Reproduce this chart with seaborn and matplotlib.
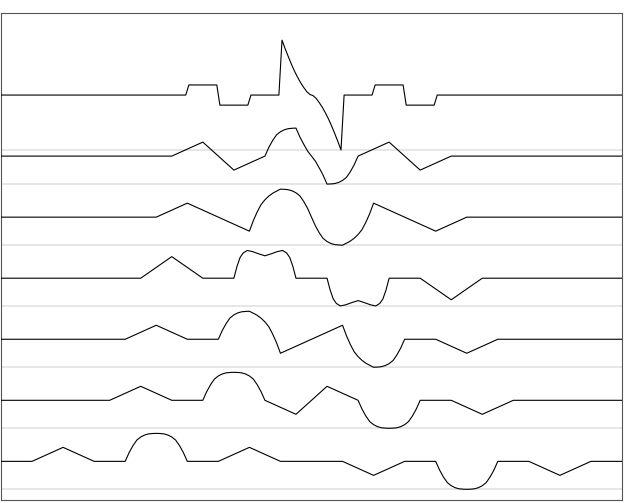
import numpy as np
import pandas as pd
import matplotlib
matplotlib.use("Agg")
import matplotlib.pyplot as plt
import seaborn as sns

# x in pulse widths (20 across the frame), y in bump heights
# row 1 (top) and row 4 are drawn directly from their read points
top_x = [0, 5.95, 6.05, 6.95, 7.05, 7.95, 8.05, 8.95,
         9.05, 9.15, 9.25, 9.35, 9.45, 9.55, 9.65, 9.75, 9.85, 9.95,
         10.05, 10.15, 10.25, 10.35, 10.45, 10.55, 10.65, 10.75, 10.85, 10.95,
         11.05, 11.95, 12.05, 12.95, 13.05, 13.95, 14.05, 20]
top_y = [0, 0, 0.36, 0.36, -0.36, -0.36, 0, 0,
         1.96, 1.66, 1.38, 1.11, 0.86, 0.64, 0.44, 0.27, 0.12, 0.02,
         -0.02, -0.12, -0.27, -0.44, -0.64, -0.86, -1.11, -1.38, -1.66, -1.96,
         0, 0, 0.36, 0.36, -0.36, -0.36, 0, 0]

row4_x = [0, 4.5, 5.5, 6.5,
          7.5, 7.6, 7.7, 7.8, 7.93, 8.1, 8.3, 8.5, 8.7, 8.9, 9.07, 9.2, 9.3, 9.4, 9.5,
          10.5, 10.6, 10.7, 10.8, 10.93, 11.1, 11.3, 11.5, 11.7, 11.9, 12.07, 12.2, 12.3, 12.4, 12.5,
          13.5, 14.5, 15.5, 20]
row4_y = [0, 0, 0.77, 0,
          0, 0.42, 0.74, 0.9, 0.99, 0.95, 0.87, 0.8, 0.87, 0.95, 0.99, 0.9, 0.74, 0.42, 0,
          0, -0.42, -0.74, -0.9, -0.99, -0.95, -0.87, -0.8, -0.87, -0.95, -0.99, -0.9, -0.74, -0.42, 0,
          0, -0.77, 0, 0]

# pulse shapes
tri_x = [0, 1, 2]
tri_y = [0, 0.5, 0]
bump_x = [0, 0.125, 0.25, 0.375, 0.5, 0.625, 0.75, 0.875, 1.0,
          1.125, 1.25, 1.375, 1.5, 1.625, 1.75, 1.875, 2.0]
bump_y = [0, 0.31, 0.56, 0.76, 0.87, 0.94, 0.98, 0.995, 1.0,
          0.995, 0.98, 0.94, 0.87, 0.76, 0.56, 0.31, 0]

# rows 2, 3, 5, 6, 7: start of the left (+) and right (-) pulse trains
train_rows = [1, 2, 4, 5, 6]
left_start = [5.5, 5.0, 4.0, 3.5, 1.0]
right_start = [6.5, 7.0, 8.0, 8.5, 11.0]

row_offset = [0, -2.18, -4.36, -6.54, -8.72, -10.9, -13.08]
floor_y = [-1.96, -3.18, -5.36, -7.54, -9.72, -11.9, -14.08]

x = np.linspace(0, 20, 801)

def train(start, sign):
    y = np.interp(x, np.add(tri_x, start), tri_y, left=0, right=0)
    y = y + np.interp(x, np.add(bump_x, start + 3), bump_y, left=0, right=0)
    y = y + np.interp(x, np.add(tri_x, start + 6), tri_y, left=0, right=0)
    return sign * y

frames = [pd.DataFrame({"x": top_x, "y": np.add(top_y, row_offset[0]), "row": 0}),
          pd.DataFrame({"x": row4_x, "y": np.add(row4_y, row_offset[3]), "row": 3})]
for r, ls, rs in zip(train_rows, left_start, right_start):
    y = train(ls, 1) + train(rs, -1) + row_offset[r]
    frames.append(pd.DataFrame({"x": x, "y": y, "row": r}))
df = pd.concat(frames, ignore_index=True)

sns.set_style("white")
fig = plt.figure(figsize=(6.27, 5.03), dpi=100)
ax = fig.add_axes([1 / 627, 3 / 503, 621 / 627, 487 / 503])

for g in floor_y:
    ax.axhline(g, color="#e2e2e2", lw=1.2, zorder=1)

sns.lineplot(data=df, x="x", y="y", units="row", estimator=None,
             color="black", lw=0.8, sort=False, ax=ax, zorder=3)

ax.set_xlim(0, 20)
ax.set_ylim(-14.46, 2.93)
ax.set_xticks([])
ax.set_yticks([])
ax.set_xlabel("")
ax.set_ylabel("")
for s in ax.spines.values():
    s.set_color("#555555")
    s.set_linewidth(0.8)

fig.savefig("out.png", dpi=100)
